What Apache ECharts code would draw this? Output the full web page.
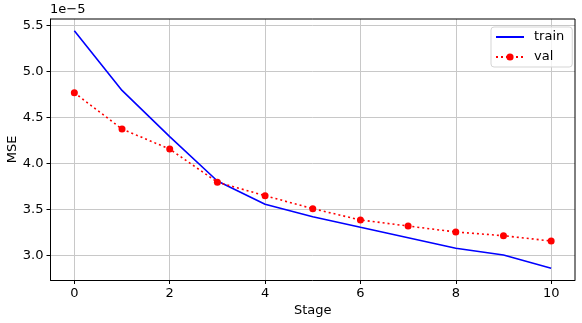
<!DOCTYPE html>
<html><head><meta charset="utf-8">
<script src="https://cdn.jsdelivr.net/npm/echarts@6/dist/echarts.min.js"></script>
<style>html,body{margin:0;padding:0;background:#fff}#c{width:582px;height:323px}</style>
</head><body><div id="c"></div>
<script>
// values shown in units of 1e-5
const stages = [0,1,2,3,4,5,6,7,8,9,10];
const trainMSE = [5.442,4.793,4.290,3.808,3.554,3.420,3.304,3.191,3.076,3.003,2.859];
const valMSE   = [4.768,4.373,4.155,3.795,3.648,3.507,3.384,3.318,3.253,3.213,3.155];
const xTicks = [0,2,4,6,8,10];
const yTicks = [3.0,3.5,4.0,4.5,5.0,5.5];

const FONT = 'DejaVu Sans';
const chart = echarts.init(document.getElementById('c'), null, {renderer:'canvas'});
chart.setOption({
  animation:false,
  backgroundColor:'#fff',
  textStyle:{fontFamily:FONT},
  grid:{left:50.5, right:7, top:19, bottom:43, containLabel:false, outerBoundsMode:'none'},
  xAxis:{type:'value', min:-0.5, max:10.5,
    name:'Stage', nameLocation:'middle', nameGap:24, nameMoveOverlap:false,
    nameTextStyle:{fontFamily:FONT,fontSize:13,color:'#000'},
    axisLine:{onZero:false,lineStyle:{color:'#000',width:1}},
    axisTick:{show:true,customValues:xTicks,length:4,lineStyle:{color:'#000'}},
    axisLabel:{customValues:xTicks,fontFamily:FONT,fontSize:13,color:'#000',margin:7},
    splitLine:{show:true,lineStyle:{color:'#c8c8c8',width:1}}
  },
  yAxis:{type:'value', min:2.731, max:5.57,
    name:'MSE', nameLocation:'middle', nameGap:31, nameRotate:90, nameMoveOverlap:false,
    nameTextStyle:{fontFamily:FONT,fontSize:13,color:'#000'},
    axisLine:{show:true,onZero:false,lineStyle:{color:'#000',width:1}},
    axisTick:{show:true,customValues:yTicks,length:4,lineStyle:{color:'#000'}},
    axisLabel:{customValues:yTicks,fontFamily:FONT,fontSize:13,color:'#000',margin:7,
      formatter:v=>v.toFixed(1)},
    splitLine:{show:true,lineStyle:{color:'#c8c8c8',width:1}}
  },
  graphic:[
    {type:'line',shape:{x1:575,y1:19,x2:575,y2:280},style:{stroke:'#000',lineWidth:1},z:10},
    {type:'line',shape:{x1:50.5,y1:19,x2:575,y2:19},style:{stroke:'#000',lineWidth:1},z:10},
    {type:'text',left:50,top:3,style:{text:'1e\u22125',font:'13px "DejaVu Sans"',fill:'#000'}}
  ],
  legend:{orient:'vertical', left:491, top:27,
    padding:[3,8,3,4], itemGap:6, itemWidth:28, itemHeight:9,
    borderColor:'#d5d5d5', borderWidth:1, borderRadius:3,
    backgroundColor:'rgba(255,255,255,0.8)',
    textStyle:{fontFamily:FONT,fontSize:13,color:'#000',lineHeight:14,padding:[0,0,0,5]},
    data:[{name:'train', itemStyle:{opacity:0}}, 'val']},
  series:[
    {name:'train', type:'line', data:stages.map((s,i)=>[s,trainMSE[i]]),
     showSymbol:false, symbol:'none', lineStyle:{color:'#0000ff',width:1.6}, itemStyle:{color:'#0000ff'}},
    {name:'val', type:'line', data:stages.map((s,i)=>[s,valMSE[i]]),
     symbol:'circle', symbolSize:7, lineStyle:{color:'#ff0000',width:1.6,type:[2,3]},
     itemStyle:{color:'#ff0000'}}
  ]
});
</script></body></html>
